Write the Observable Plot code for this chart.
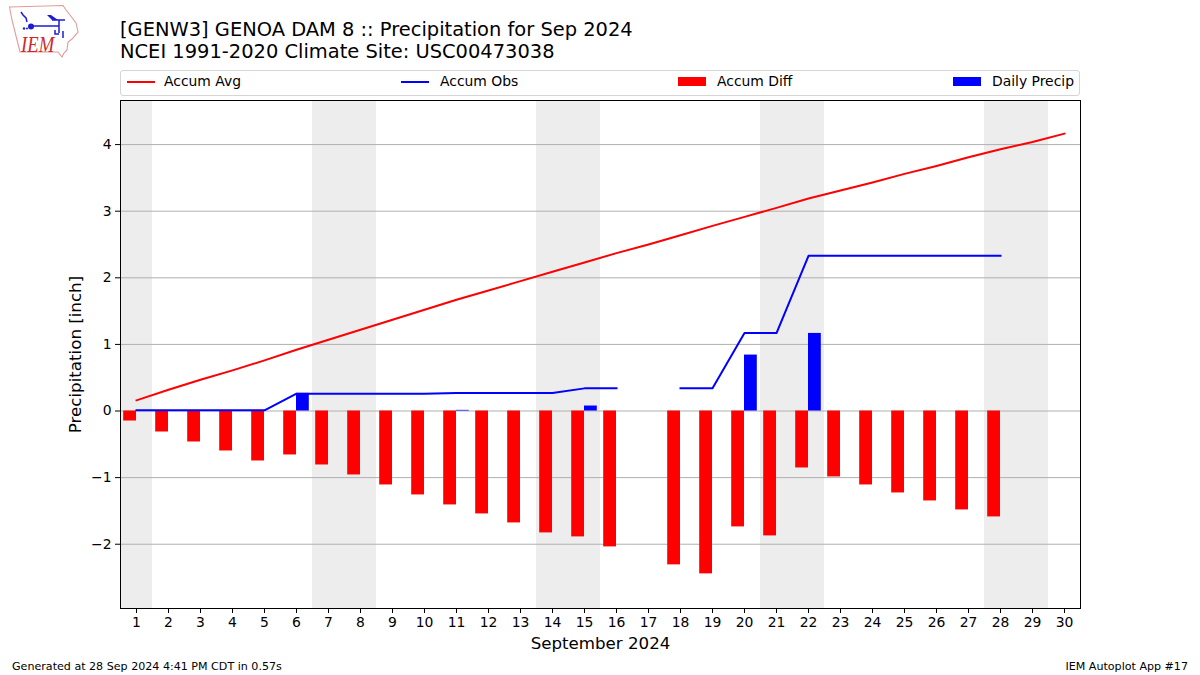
<!DOCTYPE html>
<html>
<head>
<meta charset="utf-8">
<script src="https://cdn.jsdelivr.net/npm/d3@7"></script>
<script src="https://cdn.jsdelivr.net/npm/@observablehq/plot@0.6"></script>
<style>
html,body{margin:0;padding:0;background:#fff;width:1200px;height:675px;overflow:hidden;font-family:"DejaVu Sans",sans-serif;color:#000}
#chart{position:absolute;left:0;top:0}
.abs{position:absolute;white-space:nowrap}
.title{left:120px;font-size:19.45px;line-height:22px}
.legend{left:120px;top:70px;width:958px;height:24px;border:1px solid #d5d5d5;border-radius:3px;background:#fff;box-sizing:content-box}
.lt{font-size:13.9px;top:73px;line-height:17px}
.ln{height:2px;width:28px;top:81px}
.rc{height:9px;width:28px;top:77px}
.foot{font-size:11.1px;top:660px;line-height:13px}
</style>
</head>
<body>
<div id="chart"></div>
<svg class="abs" style="left:0;top:0" width="90" height="64" viewBox="0 0 90 64">
  <path d="M9.5 7L63 5.5L66 10L70 15L76 23L78 32L72 39L68 42L67 50L64 53L62 57L58 52L20 52L17 40L12 20Z" fill="none" stroke="#e59a9a" stroke-width="1.1"/>
  <g stroke="#1c1cd6" fill="none" stroke-width="1.5">
    <path d="M31 26H59M59 20V33M52 20H65M21 12L23 15L26 18L27 22"/>
    <path d="M55 30V34H59M63 31V38"/>
  </g>
  <circle cx="31" cy="26.5" r="3" fill="#1c1cd6"/>
  <path d="M47 15L51 15L58 20L52 20Z" fill="#1c1cd6"/>
  <circle cx="24" cy="28.5" r="1.2" fill="#1c1cd6"/>
  <circle cx="27" cy="28.5" r="1" fill="#1c1cd6"/>
  <text transform="translate(21 52) scale(0.78 1)" font-family="Liberation Serif" font-style="italic" font-size="24" fill="#cf2a2a">IEM</text>
</svg>
<div class="abs title" style="top:19px">[GENW3] GENOA DAM 8 :: Precipitation for Sep 2024</div>
<div class="abs title" style="top:41px">NCEI 1991-2020 Climate Site: USC00473038</div>
<div class="abs legend"></div>
<div class="abs ln" style="left:127px;background:#f00"></div>
<div class="abs lt" style="left:164px">Accum Avg</div>
<div class="abs ln" style="left:401px;background:#00f"></div>
<div class="abs lt" style="left:440px">Accum Obs</div>
<div class="abs rc" style="left:678px;background:#f00"></div>
<div class="abs lt" style="left:717px">Accum Diff</div>
<div class="abs rc" style="left:953px;background:#00f"></div>
<div class="abs lt" style="left:992px">Daily Precip</div>
<div class="abs foot" style="left:12px">Generated at 28 Sep 2024 4:41 PM CDT in 0.57s</div>
<div class="abs foot" style="right:12px">IEM Autoplot App #17</div>
<script>
const days = d3.range(1, 31);
const accumAvg = [0.16,0.32,0.47,0.61,0.76,0.92,1.07,1.22,1.37,1.52,1.67,1.81,1.95,2.09,2.23,2.37,2.50,2.64,2.78,2.915,3.05,3.19,3.31,3.43,3.56,3.68,3.81,3.93,4.04,4.165];
const accumObs = [0.01,0.01,0.01,0.01,0.01,0.26,0.26,0.26,0.26,0.26,0.27,0.27,0.27,0.27,0.34,0.34,null,0.34,0.34,1.17,1.17,2.33,2.33,2.33,2.33,2.33,2.33,2.33,null,null];
const accumDiff = [-0.15,-0.315,-0.465,-0.60,-0.75,-0.66,-0.81,-0.96,-1.11,-1.26,-1.41,-1.545,-1.68,-1.83,-1.89,-2.04,null,-2.31,-2.445,-1.74,-1.875,-0.855,-0.99,-1.11,-1.23,-1.35,-1.485,-1.59,null,null];
const dailyPrecip = [0,0,0,0,0,0.265,0,0,0,0,0.01,0,0,0,0.075,0,null,0,0,0.84,0,1.165,0,0,0,0,0,0,null,null];
const weekendStart = [0.5,6.5,13.5,20.5,27.5];
const weekendEnd = [1.5,8.5,15.5,22.5,29.5];
const yTicks = [-2,-1,0,1,2,3,4];

const rows = days.map((day,i)=>({day,avg:accumAvg[i],obs:accumObs[i],diff:accumDiff[i],precip:dailyPrecip[i]}));
const bands = weekendStart.map((s,i)=>({s,e:weekendEnd[i]}));
const BAR = 0.4;

const plot = Plot.plot({
  width:1200,height:675,
  marginTop:100,marginBottom:67,marginLeft:120,marginRight:120,
  style:{fontFamily:"DejaVu Sans",fontSize:"13.9px",color:"#000",background:"transparent"},
  x:{type:"linear",domain:[0.5,30.5]},
  y:{domain:[-2.965,4.662]},
  marks:[
    Plot.rectX(bands,{x1:"s",x2:"e",fill:"#ededed"}),
    Plot.gridY(yTicks,{stroke:"#b0b0b0",strokeOpacity:1,strokeWidth:1}),
    Plot.rectY(rows.filter(d=>d.diff!=null),{x1:d=>d.day-BAR,x2:"day",y1:0,y2:"diff",fill:"#f00"}),
    Plot.rectY(rows.filter(d=>d.precip>0),{x1:"day",x2:d=>d.day+BAR,y1:0,y2:"precip",fill:"#00f"}),
    Plot.line(rows,{x:"day",y:"avg",stroke:"#f00",strokeWidth:2,strokeLinecap:"square"}),
    Plot.line(rows,{x:"day",y:"obs",stroke:"#00f",strokeWidth:2,strokeLinecap:"square"}),
    Plot.frame({stroke:"#000",strokeWidth:1}),
    Plot.axisX(days,{anchor:"bottom",tickSize:5,tickPadding:4,label:null,tickFormat:d=>String(d),stroke:"#000"}),
    Plot.axisY(yTicks,{anchor:"left",tickSize:5,tickPadding:4,label:null,tickFormat:d3.format("d"),stroke:"#000"}),
    Plot.text(["September 2024"],{frameAnchor:"bottom",dy:40,fontSize:15.3*1.09,fill:"#000"}),
    Plot.text(["Precipitation [inch]"],{frameAnchor:"left",textAnchor:"middle",dx:-45,rotate:-90,fontSize:15.3*1.09,fill:"#000"})
  ]
});
document.getElementById("chart").appendChild(plot);
</script>
</body>
</html>
